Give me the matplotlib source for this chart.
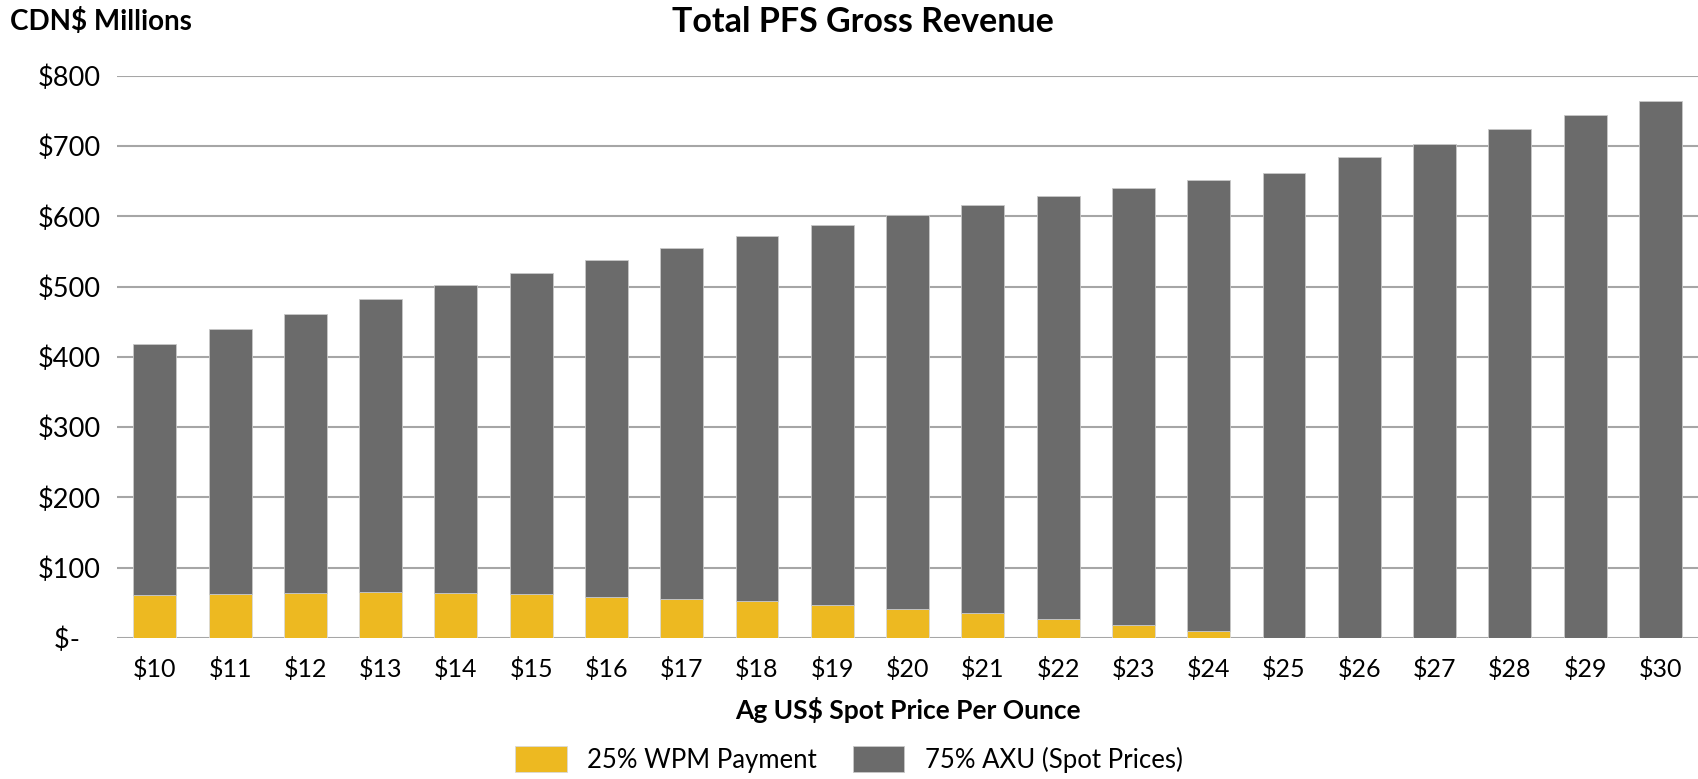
import numpy as np
import matplotlib
matplotlib.use("Agg")
import matplotlib.pyplot as plt

plt.rcParams['font.family'] = ['Lato', 'DejaVu Sans']

prices = ['$10', '$11', '$12', '$13', '$14', '$15', '$16', '$17', '$18', '$19', '$20',
          '$21', '$22', '$23', '$24', '$25', '$26', '$27', '$28', '$29', '$30']
# total gross revenue (CDN$ millions) and the WPM part of it
total = [418, 440, 461, 482, 502, 520, 538, 555, 572, 588, 602,
         617, 629, 641, 652, 662, 684, 703, 724, 744, 764]
wpm = [61, 62, 64, 65, 64, 62, 59, 55, 52, 47, 41,
       35, 27, 19, 10, 0, 0, 0, 0, 0, 0]
axu = [t - w for t, w in zip(total, wpm)]

yticks = [0, 100, 200, 300, 400, 500, 600, 700, 800]
ylabels = ['$-   ', '$100', '$200', '$300', '$400', '$500', '$600', '$700', '$800']

yellow = '#EDB921'
gray = '#6B6B6B'
grid = '#A6A6A6'

fig = plt.figure(figsize=(16.98, 7.79), dpi=100)
ax = fig.add_axes([0.069, 0.181, 0.931, 0.7215])

x = np.arange(len(prices))
ax.bar(x, wpm, width=0.57, color=yellow, edgecolor='#D9D9D9', linewidth=0.6,
       label='25% WPM Payment', zorder=3)
ax.bar(x, axu, bottom=wpm, width=0.57, color=gray, edgecolor='#C8C8C8', linewidth=0.6,
       label='75% AXU (Spot Prices)', zorder=3)

ax.set_xlim(-0.5, len(prices) - 0.5)
ax.set_ylim(0, 800)
ax.set_yticks(yticks)
ax.set_yticklabels(ylabels)
ax.set_xticks(x)
ax.set_xticklabels(prices)
ax.tick_params(axis='x', length=0, labelsize=18, colors='black', pad=14)
ax.tick_params(axis='y', length=0, labelsize=19.5, colors='black', pad=12)
ax.grid(axis='y', color=grid, linewidth=1.5, zorder=0)
for s in ax.spines.values():
    s.set_visible(False)

ax.set_xlabel('Ag US$ Spot Price Per Ounce', fontsize=19, fontweight='bold', labelpad=11)
fig.text(0.508, 0.972, 'Total PFS Gross Revenue', ha='center', va='center',
         fontsize=24.5, fontweight='bold')
fig.text(0.006, 0.972, 'CDN$ Millions', ha='left', va='center',
         fontsize=20, fontweight='bold')

fig.legend(loc='center', bbox_to_anchor=(0.5, 0.025), ncol=2, frameon=False,
           fontsize=18.5, handlelength=2.0, handleheight=1.15, columnspacing=1.4,
           handletextpad=0.8)

fig.savefig('out.png', dpi=100)
